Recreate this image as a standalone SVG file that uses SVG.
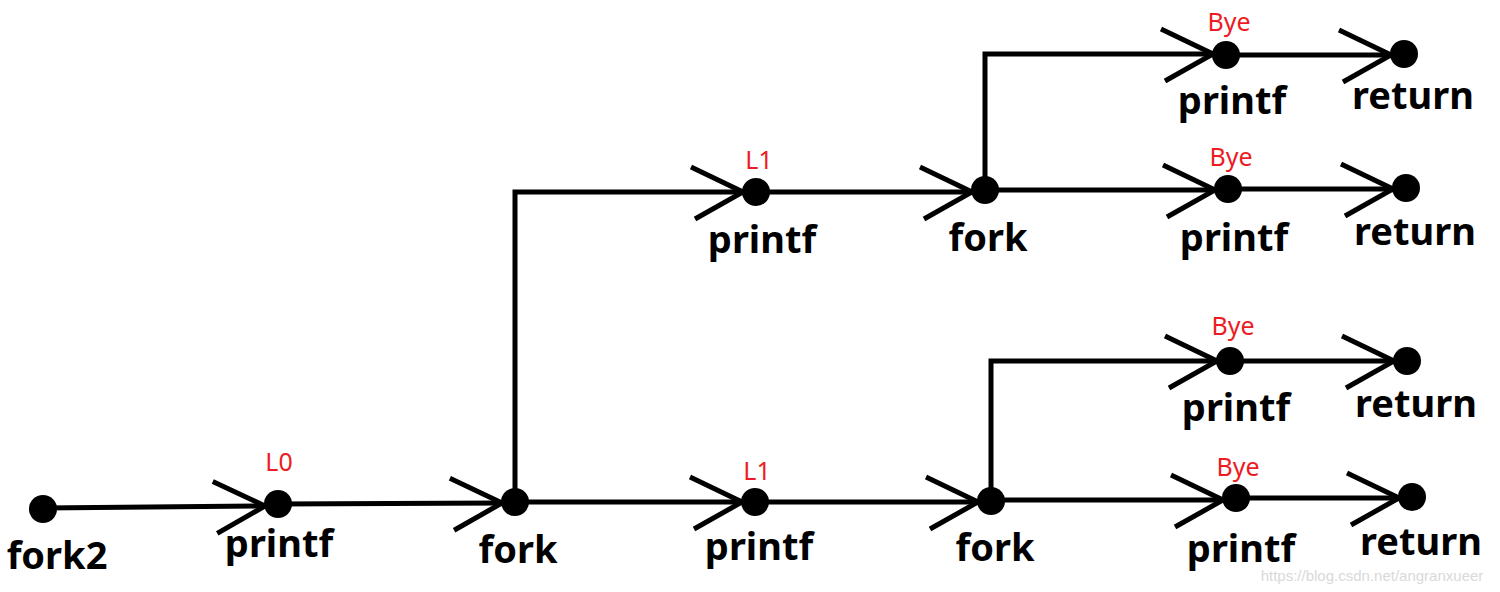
<svg xmlns="http://www.w3.org/2000/svg" width="1500" height="592" viewBox="0 0 1500 592">
<defs>
<style>
.lbl{font-family:"Noto Sans","Open Sans",sans-serif;font-weight:bold;font-size:38px;fill:#000;text-anchor:middle}
.red{font-family:"Noto Sans","Open Sans",sans-serif;font-size:25px;fill:#ec1c24;text-anchor:middle}
.dot{fill:#000}
.wire{fill:none;stroke:#000;stroke-width:5}
</style>
<marker id="ah" markerUnits="userSpaceOnUse" markerWidth="70" markerHeight="70" refX="60" refY="35" orient="auto" overflow="visible">
<path d="M8,10 L60,35 L12,62" fill="none" stroke="#000" stroke-width="5"/>
</marker>
</defs>
<rect width="1500" height="592" fill="#fff"/>
<g id="connectors">
<path class="wire" d="M43,508 L265,506" marker-end="url(#ah)"/>
<path class="wire" d="M278,504 L502,503" marker-end="url(#ah)"/>
<path class="wire" d="M515,502 V192 H743" marker-end="url(#ah)"/>
<path class="wire" d="M515,502 H742" marker-end="url(#ah)"/>
<path class="wire" d="M756,192 H972" marker-end="url(#ah)"/>
<path class="wire" d="M985,190 V54 H1213" marker-end="url(#ah)"/>
<path class="wire" d="M985,190 H1215" marker-end="url(#ah)"/>
<path class="wire" d="M1226,55 H1391" marker-end="url(#ah)"/>
<path class="wire" d="M1228,189 H1393" marker-end="url(#ah)"/>
<path class="wire" d="M755,502 H978" marker-end="url(#ah)"/>
<path class="wire" d="M991,501 V361 H1217" marker-end="url(#ah)"/>
<path class="wire" d="M991,500 H1223" marker-end="url(#ah)"/>
<path class="wire" d="M1230,361 H1394" marker-end="url(#ah)"/>
<path class="wire" d="M1236,498 H1399" marker-end="url(#ah)"/>
</g>
<g id="n-fork2"><circle class="dot" cx="43" cy="509" r="14"/><text class="lbl" x="57" y="569">fork2</text></g>
<g id="n-printf-L0"><circle class="dot" cx="278" cy="504" r="14"/><text class="red" x="279" y="471">L0</text><text class="lbl" x="279" y="557">printf</text></g>
<g id="n-fork-1"><circle class="dot" cx="515" cy="502" r="14"/><text class="lbl" x="518" y="563">fork</text></g>
<g id="n-printf-L1-top"><circle class="dot" cx="756" cy="192" r="14"/><text class="red" x="759" y="169">L1</text><text class="lbl" x="762" y="253">printf</text></g>
<g id="n-fork-top"><circle class="dot" cx="985" cy="190" r="14"/><text class="lbl" x="988" y="251">fork</text></g>
<g id="n-printf-bye-1"><circle class="dot" cx="1226" cy="55" r="14"/><text class="red" x="1229" y="31">Bye</text><text class="lbl" x="1232" y="114">printf</text></g>
<g id="n-return-1"><circle class="dot" cx="1404" cy="54" r="14"/><text class="lbl" x="1413" y="109">return</text></g>
<g id="n-printf-bye-2"><circle class="dot" cx="1228" cy="189" r="14"/><text class="red" x="1231" y="166">Bye</text><text class="lbl" x="1234" y="251">printf</text></g>
<g id="n-return-2"><circle class="dot" cx="1406" cy="188" r="14"/><text class="lbl" x="1415" y="245">return</text></g>
<g id="n-printf-L1-bot"><circle class="dot" cx="755" cy="502" r="14"/><text class="red" x="757" y="480">L1</text><text class="lbl" x="759" y="560">printf</text></g>
<g id="n-fork-bot"><circle class="dot" cx="991" cy="501" r="14"/><text class="lbl" x="995" y="561">fork</text></g>
<g id="n-printf-bye-3"><circle class="dot" cx="1230" cy="361" r="14"/><text class="red" x="1233" y="335">Bye</text><text class="lbl" x="1236" y="421">printf</text></g>
<g id="n-return-3"><circle class="dot" cx="1407" cy="361" r="14"/><text class="lbl" x="1416" y="417">return</text></g>
<g id="n-printf-bye-4"><circle class="dot" cx="1236" cy="498" r="14"/><text class="red" x="1238" y="476">Bye</text><text class="lbl" x="1241" y="562">printf</text></g>
<g id="n-return-4"><circle class="dot" cx="1412" cy="497" r="14"/><text class="lbl" x="1421" y="555">return</text></g>
<text x="1372" y="581" style="font-family:'Liberation Sans',sans-serif;font-size:15px;fill:#d9d9d9;text-anchor:middle">https://blog.csdn.net/angranxueer</text>
</svg>
